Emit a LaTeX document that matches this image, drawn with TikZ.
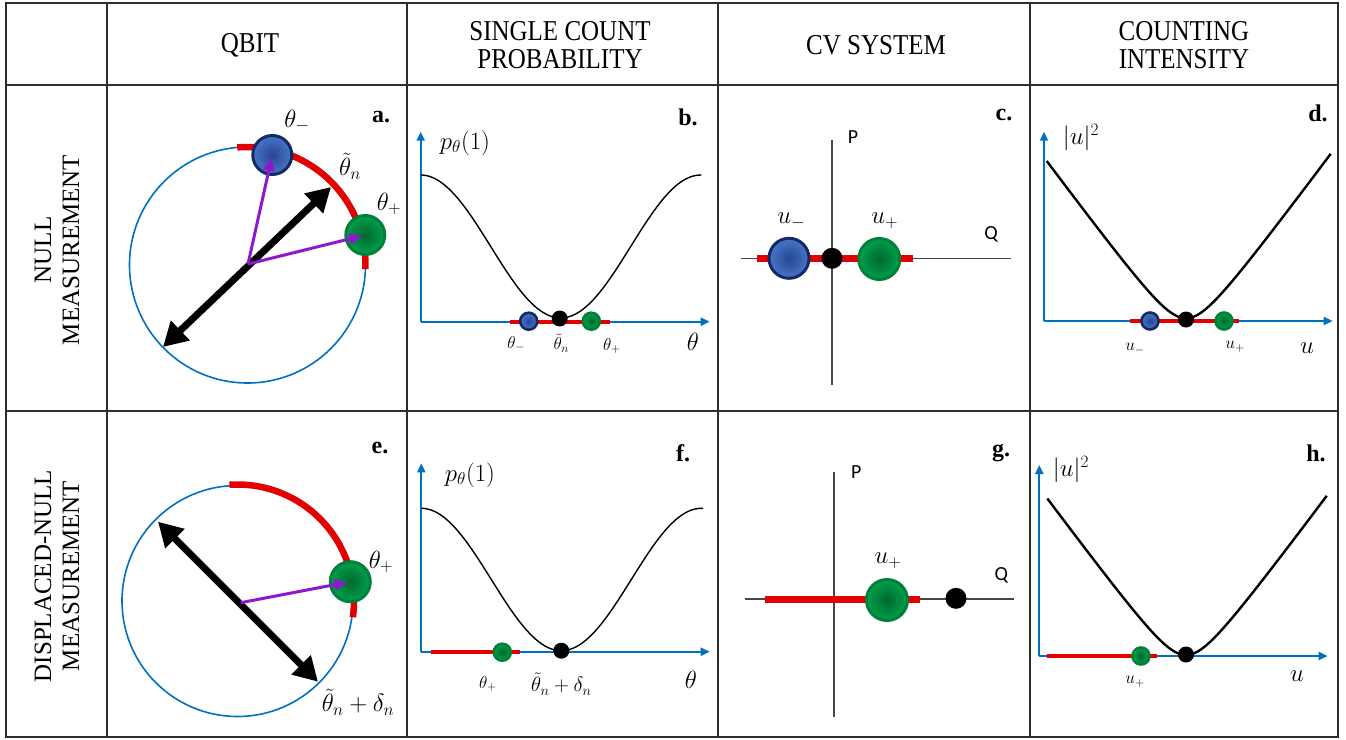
\documentclass[tikz,border=0pt]{standalone}
\usepackage{fontspec}
\setmainfont{Liberation Serif}
\newfontfamily\calibfont{Carlito}
\usetikzlibrary{arrows.meta}
\definecolor{axblue}{RGB}{0,112,192}
\definecolor{redbar}{RGB}{226,0,0}
\definecolor{purp}{RGB}{140,25,205}
\definecolor{bfill}{RGB}{72,118,200}
\definecolor{bdark}{RGB}{38,70,145}
\definecolor{bedge}{RGB}{20,42,100}
\definecolor{gfill}{RGB}{0,160,75}
\definecolor{gdark}{RGB}{0,105,45}
\definecolor{gedge}{RGB}{0,128,58}
\definecolor{gridc}{RGB}{45,45,45}
\definecolor{axgray}{RGB}{70,70,70}
\tikzset{
 gridline/.style={draw=gridc, line width=1.5pt},
 hdr/.style={font=\fontsize{25}{25}\selectfont, align=center, inner sep=0pt, yscale=1.15},
 vhdr/.style={font=\fontsize{25}{28}\selectfont, align=center, inner sep=0pt},
 plbl/.style={font=\bfseries\fontsize{24}{26}\selectfont, inner sep=0pt},
 mlbl/.style={font=\fontsize{23}{26}\selectfont, inner sep=0pt},
 axlbl/.style={font=\fontsize{25}{28}\selectfont, inner sep=0pt},
 slbl/.style={font=\fontsize{18}{20}\selectfont, inner sep=0pt},
 sanslbl/.style={font=\calibfont\fontsize{20}{22}\selectfont, inner sep=0pt},
 blueball/.style={circle, inner sep=0pt, minimum size=#1, draw=bedge, line width=3pt, inner color=bdark, outer color=bfill},
 greenball/.style={circle, inner sep=0pt, minimum size=#1, draw=gedge, line width=3pt, inner color=gdark, outer color=gfill},
 sblueball/.style={circle, inner sep=0pt, minimum size=#1, draw=bedge, line width=2.6pt, inner color=bdark, outer color=bfill},
 sgreenball/.style={circle, inner sep=0pt, minimum size=#1, draw=gedge, line width=2.6pt, inner color=gdark, outer color=gfill},
 blackdot/.style={circle, inner sep=0pt, minimum size=#1, fill=black},
 axisarrow/.style={draw=axblue, line width=2pt, -{Triangle[length=9pt,width=8pt]}},
 grayaxis/.style={draw=axgray, line width=1.4pt},
 qcircle/.style={draw=axblue, line width=1.6pt},
 redarc/.style={draw=redbar, line width=6.5pt},
 thinred/.style={draw=redbar, line width=4pt},
 thickred/.style={draw=redbar, line width=7pt},
 dblarrow/.style={line width=7pt, {Triangle[length=24pt,width=26pt]}-{Triangle[length=24pt,width=26pt]}},
 purparrow/.style={draw=purp, line width=3pt, -{Triangle[length=13pt,width=11pt]}, shorten >=3pt},
 cosc/.style={draw=black, line width=1.4pt},
 hypc/.style={draw=black, line width=2.4pt},
}
\begin{document}
\begin{tikzpicture}[x=1pt,y=-1pt]
\useasboundingbox (0,0) rectangle (1346,739);
% ---------- table grid ----------
\draw[gridline] (6,3) rectangle (1338,737);
\draw[gridline] (107,3) -- (107,737);
\draw[gridline] (407,3) -- (407,737);
\draw[gridline] (718,3) -- (718,737);
\draw[gridline] (1030,3) -- (1030,737);
\draw[gridline] (6,85) -- (1338,85);
\draw[gridline] (6,411) -- (1338,411);
% ---------- headers ----------
\node[hdr] (hq) at (250,45) {QBIT};
\node[hdr] (hs) at (560,45) {SINGLE COUNT\\PROBABILITY};
\node[hdr] (hc) at (876,45) {CV SYSTEM};
\node[hdr] (hi) at (1184,45) {COUNTING\\INTENSITY};
\node[vhdr, rotate=90] (rn) at (57,250) {NULL\\MEASUREMENT};
\node[vhdr, rotate=90] (rd) at (57,576) {DISPLACED-NULL\\MEASUREMENT};
% ---------- panel a ----------
\coordinate (aC) at (247.5,265);
\draw[qcircle] (aC) circle[radius=118pt];
\draw[redarc] plot[domain=-95:2, samples=60] ({247.5+118*cos(\x)},{265+118*sin(\x)});
\coordinate (aA1) at (163,347);
\coordinate (aA2) at (331,187);
\draw[dblarrow] (aA1) -- (aA2);
\node[blueball=39pt] (am) at (272.3,155) {};
\node[greenball=39pt] (ap) at (365.3,235) {};
\coordinate (aP) at (248,264);
\draw[purparrow] (aP) -- (am.center);
\draw[purparrow] (aP) -- (ap.center);
\node[plbl] (la) at (381,117) {a.};
\node[mlbl] (lam) at (297,121) {$\theta_-$};
\node[mlbl] (lan) at (350,166) {$\tilde{\theta}_n$};
\node[mlbl] (lap) at (389,204) {$\theta_+$};
% ---------- panel b ----------
\coordinate (bO) at (420.7,321.7);
\coordinate (bY) at (420.7,131.7);
\coordinate (bX) at (709.7,321.7);
\draw[axisarrow] (bO) -- (bY);
\draw[axisarrow] (bO) -- (bX);
\draw[cosc] plot[domain=420.7:701.3, samples=90] (\x,{175+71.5*(1-cos((\x-420.7)/140*180))});
\coordinate (bR1) at (509.7,321.7);
\coordinate (bR2) at (609.7,321.7);
\draw[thinred] (bR1) -- (bR2);
\node[sblueball=17pt] (bm) at (528.7,321.2) {};
\node[sgreenball=17pt] (bp) at (591.3,321.2) {};
\node[blackdot=16pt] (bn) at (559.7,318.5) {};
\node[plbl] (lb) at (688,117) {b.};
\node[axlbl] (lby) at (465,143) {$p_\theta(1)$};
\node[slbl] (lbm) at (516.3,344) {$\theta_-$};
\node[slbl] (lbn) at (561.3,343) {$\tilde{\theta}_n$};
\node[slbl] (lbp) at (612,346) {$\theta_+$};
\node[axlbl] (lbx) at (693,342) {$\theta$};
% ---------- panel c ----------
\coordinate (cV1) at (832,140);
\coordinate (cV2) at (832,385);
\coordinate (cH1) at (741.3,258.3);
\coordinate (cH2) at (1010.7,258.3);
\draw[grayaxis] (cV1) -- (cV2);
\draw[grayaxis] (cH1) -- (cH2);
\coordinate (cR1) at (757.3,258.3);
\coordinate (cR2) at (913,258.3);
\draw[thickred] (cR1) -- (cR2);
\node[blueball=40pt] (cm) at (789,258.3) {};
\node[greenball=41pt] (cp) at (879.3,259) {};
\node[blackdot=21pt] (cn) at (832,258.3) {};
\node[plbl] (lc) at (1004,115) {c.};
\node[sanslbl] (lcP) at (853,137) {P};
\node[sanslbl] (lcQ) at (991,234) {Q};
\node[mlbl] (lcm) at (791.3,221) {$u_-$};
\node[mlbl] (lcp) at (884.7,221) {$u_+$};
% ---------- panel d ----------
\coordinate (dO) at (1044,321);
\coordinate (dY) at (1044,131.7);
\coordinate (dX) at (1332.7,321);
\draw[axisarrow] (dO) -- (dY);
\draw[axisarrow] (dO) -- (dX);
\draw[hypc] plot[domain=1046.7:1330.7, samples=90] (\x,{318.3-33.75*(sqrt(1+((\x-1186)/25)*((\x-1186)/25))-1)});
\coordinate (dR1) at (1130,321);
\coordinate (dR2) at (1239.3,321);
\draw[thinred] (dR1) -- (dR2);
\node[sblueball=17pt] (dm) at (1150,321) {};
\node[sgreenball=17pt] (dp) at (1224,321) {};
\node[blackdot=16pt] (dn) at (1186,319.5) {};
\node[plbl] (ld) at (1318,113) {d.};
\node[axlbl] (ldy) at (1081,138) {$|u|^2$};
\node[slbl] (ldm) at (1135,349) {$u_-$};
\node[slbl] (ldp) at (1235,347) {$u_+$};
\node[axlbl] (ldx) at (1307,348) {$u$};
% ---------- panel e ----------
\coordinate (eC) at (237.5,601);
\draw[qcircle] (eC) circle[radius=115.5pt];
\draw[redarc] plot[domain=-94:8, samples=60] ({237.5+116.5*cos(\x)},{601+116.5*sin(\x)});
\coordinate (eA1) at (158,521.7);
\coordinate (eA2) at (318,681.7);
\draw[dblarrow] (eA1) -- (eA2);
\node[greenball=40pt] (ep) at (350.3,581.7) {};
\coordinate (eP) at (240.7,602.7);
\draw[purparrow] (eP) -- (ep.center);
\node[plbl] (le) at (380,448) {e.};
\node[mlbl] (lep) at (381,562) {$\theta_+$};
\node[axlbl] (len) at (358,702) {$\tilde{\theta}_n+\delta_n$};
% ---------- panel f ----------
\coordinate (fO) at (421.3,651.7);
\coordinate (fY) at (421.3,463.3);
\coordinate (fX) at (709.7,651.7);
\draw[axisarrow] (fO) -- (fY);
\draw[axisarrow] (fO) -- (fX);
\draw[cosc] plot[domain=421.3:703, samples=90] (\x,{508.3+71.2*(1-cos((\x-421.3)/140*180))});
\coordinate (fR1) at (430.7,651.7);
\coordinate (fR2) at (519.7,651.7);
\draw[thinred] (fR1) -- (fR2);
\node[sgreenball=17pt] (fp) at (502.3,652.2) {};
\node[blackdot=16pt] (fn) at (561.3,650.7) {};
\node[plbl] (lf) at (683,453) {f.};
\node[axlbl] (lfy) at (470,475) {$p_\theta(1)$};
\node[slbl] (lfp) at (488,684) {$\theta_+$};
\node[slbl, font=\fontsize{20}{22}\selectfont] (lfn) at (561.3,684) {$\tilde{\theta}_n+\delta_n$};
\node[axlbl] (lfx) at (691,680) {$\theta$};
% ---------- panel g ----------
\coordinate (gV1) at (834,471.7);
\coordinate (gV2) at (834,716.7);
\coordinate (gH1) at (744.7,599);
\coordinate (gH2) at (1014,599);
\draw[grayaxis] (gV1) -- (gV2);
\draw[grayaxis] (gH1) -- (gH2);
\coordinate (gR1) at (764.7,599);
\coordinate (gR2) at (919.7,599);
\draw[thickred] (gR1) -- (gR2);
\node[greenball=41pt] (gp) at (887,600) {};
\node[blackdot=21pt] (gn) at (956,598.3) {};
\node[plbl] (lg) at (1001,453) {g.};
\node[sanslbl] (lgP) at (856.3,471.7) {P};
\node[sanslbl] (lgQ) at (1001.3,575) {Q};
\node[mlbl] (lgp) at (888,561) {$u_+$};
% ---------- panel h ----------
\coordinate (hO) at (1039.3,656);
\coordinate (hY) at (1039.3,465);
\coordinate (hX) at (1327.7,656);
\draw[axisarrow] (hO) -- (hY);
\draw[axisarrow] (hO) -- (hX);
\draw[hypc] plot[domain=1047.3:1326.7, samples=90] (\x,{655-33.75*(sqrt(1+((\x-1186)/25)*((\x-1186)/25))-1)});
\coordinate (hR1) at (1047.3,656);
\coordinate (hR2) at (1156.7,656);
\draw[thinred] (hR1) -- (hR2);
\node[sgreenball=17pt] (hp) at (1141,656) {};
\node[blackdot=16pt] (hn) at (1186,654.5) {};
\node[plbl] (lh) at (1316,453) {h.};
\node[axlbl] (lhy) at (1071,470) {$|u|^2$};
\node[slbl] (lhp) at (1135,682) {$u_+$};
\node[axlbl] (lhx) at (1297,676) {$u$};
\end{tikzpicture}
\end{document}
